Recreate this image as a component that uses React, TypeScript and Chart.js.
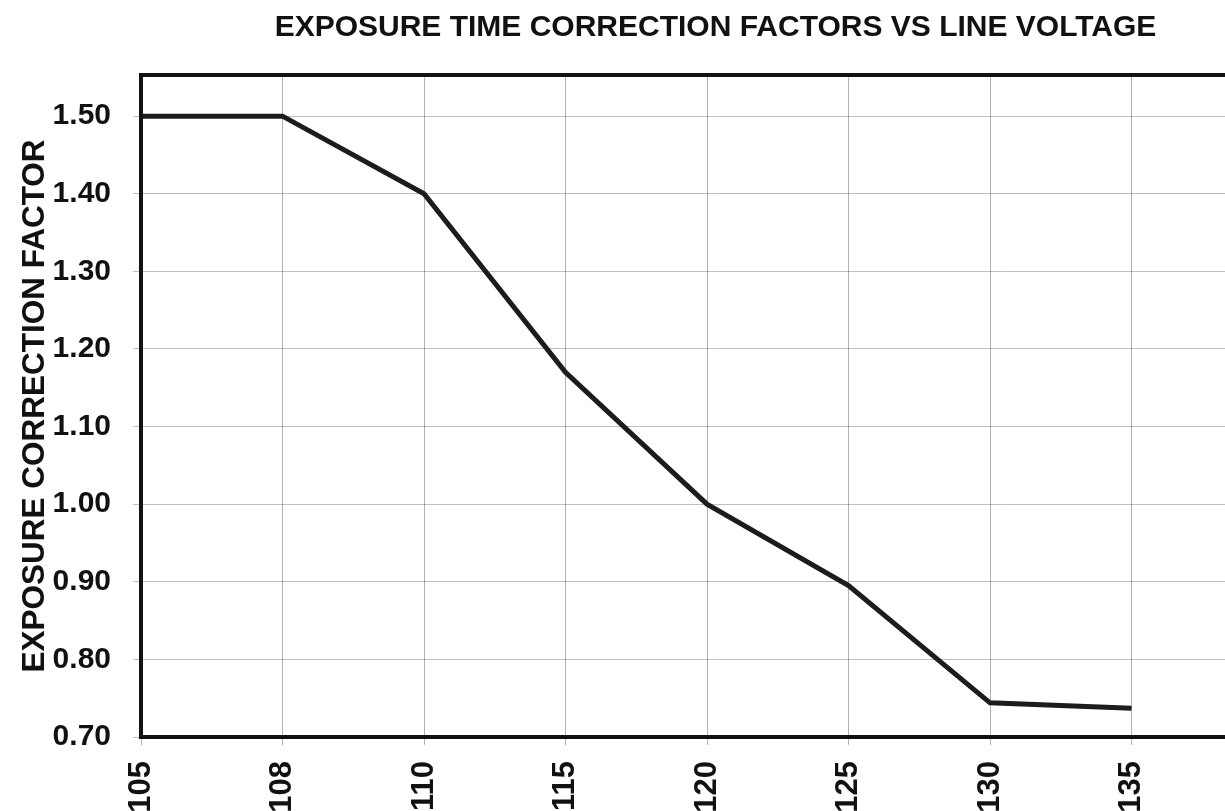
import React, { useEffect, useRef } from "react";
import { Chart, registerables } from "chart.js";

Chart.register(...registerables);

const voltageLabels = ["105", "108", "110", "115", "120", "125", "130", "135"];
const correctionFactors = [1.5, 1.5, 1.4, 1.17, 1.0, 0.895, 0.744, 0.737];
const yTicks = [0.7, 0.8, 0.9, 1.0, 1.1, 1.2, 1.3, 1.4, 1.5];

const FONT = "'Liberation Sans', Arial, sans-serif";

const frame = {
  id: "frame",
  afterDatasetsDraw(chart: any) {
    const { ctx, chartArea } = chart;
    ctx.save();
    ctx.strokeStyle = "#111";
    ctx.lineWidth = 4;
    ctx.strokeRect(chartArea.left, chartArea.top, chartArea.right - chartArea.left, chartArea.bottom - chartArea.top);
    ctx.restore();
  },
};

export default function App() {
  const ref = useRef<HTMLCanvasElement>(null);
  useEffect(() => {
    if (!ref.current) return;
    const chart = new Chart(ref.current, {
      type: "line",
      data: {
        datasets: [
          {
            data: correctionFactors.map((v, i) => ({ x: i, y: v })),
            borderColor: "#1c1c1c",
            borderWidth: 5,
            pointRadius: 0,
            tension: 0,
            fill: false,
          },
        ],
      },
      options: {
        animation: false,
        responsive: false,
        devicePixelRatio: 1,
        layout: { padding: { left: 0, right: 0, top: 0, bottom: 0 } },
        plugins: {
          legend: { display: false },
          tooltip: { enabled: false },
          title: {
            display: true,
            text: "EXPOSURE TIME CORRECTION FACTORS VS LINE VOLTAGE",
            fullSize: false,
            color: "#111",
            font: { family: FONT, size: 30, weight: "bold" },
            padding: { top: 10, bottom: 29 },
          },
        },
        scales: {
          x: {
            type: "linear",
            min: 0,
            max: 8.12,
            afterBuildTicks: (axis: any) => {
              axis.ticks = voltageLabels.map((_, i) => ({ value: i }));
            },
            afterFit: (axis: any) => {
              axis.height = 74;
            },
            ticks: {
              callback: (v: any) => voltageLabels[v] ?? "",
              minRotation: 90,
              maxRotation: 90,
              color: "#111",
              font: { family: FONT, size: 31, weight: "bold" },
              padding: 16,
            },
            grid: { color: "rgba(0,0,0,0.3)", lineWidth: 1, tickLength: 8, drawTicks: true },
            border: { display: false },
          },
          y: {
            min: 0.7,
            max: 1.553,
            afterBuildTicks: (axis: any) => {
              axis.ticks = yTicks.map((v) => ({ value: v }));
            },
            afterFit: (axis: any) => {
              axis.width = 141;
            },
            ticks: {
              callback: (v: any) => Number(v).toFixed(2),
              color: "#111",
              font: { family: FONT, size: 30, weight: "bold" },
              padding: 22,
            },
            title: {
              display: true,
              text: "EXPOSURE CORRECTION FACTOR",
              color: "#111",
              font: { family: FONT, size: 31.5, weight: "bold" },
              padding: { top: 16, bottom: 0 },
            },
            grid: { color: "rgba(0,0,0,0.25)", lineWidth: 1, tickLength: 8 },
            border: { display: false },
          },
        },
      },
      plugins: [frame],
    });
    return () => chart.destroy();
  }, []);

  return (
    <div style={{ position: "fixed", left: 0, top: 0, width: 1225, height: 811, overflow: "hidden", background: "#fff" }}>
      <canvas ref={ref} width={1290} height={811} style={{ display: "block", width: 1290, height: 811 }} />
    </div>
  );
}
